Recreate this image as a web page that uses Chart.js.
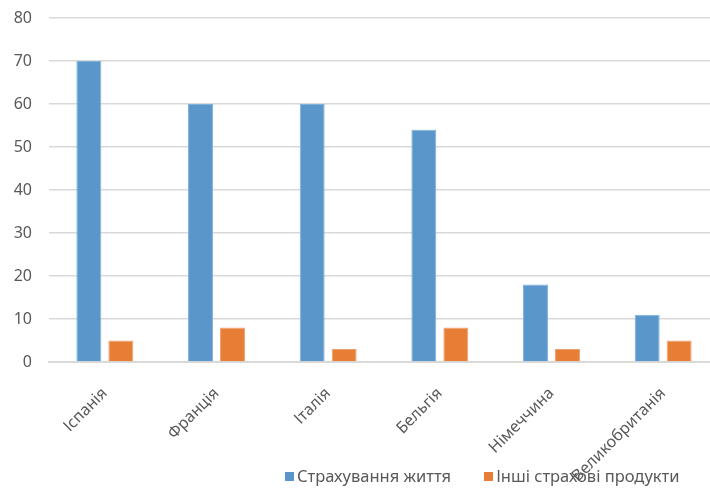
<!DOCTYPE html>
<html>
<head>
<meta charset="utf-8">
<script src="https://cdn.jsdelivr.net/npm/chart.js@4"></script>
<style>
    html, body { margin: 0; padding: 0; background: #fff; overflow: hidden; }
    #wrap { position: relative; width: 720px; height: 489px; }
    #legenda { position: absolute; top: 464px; left: 285px; font: 16.5px "Noto Sans", sans-serif; color: #595959; white-space: nowrap; }
    #legenda span.item { display: inline-block; margin-right: 33px; }
    #legenda i { display: inline-block; width: 9px; height: 9px; margin-right: 3px; vertical-align: 1px; }
</style>
</head>
<body>
<div id="wrap">
    <canvas id="grafico" width="720" height="489"></canvas>
    <div id="legenda"></div>
</div>
<script>
    // dados
    const paises = ['Іспанія', 'Франція', 'Італія', 'Бельгія', 'Німеччина', 'Великобританія'];
    const strakhZhyttia = [70, 60, 60, 54, 18, 11];
    const inshiProdukty = [5, 8, 3, 8, 3, 5];
    const nomesSeries = ['Страхування життя', 'Інші страхові продукти'];
    const cores = ['#5b96cb', '#e77e35'];

    const cinza = '#595959';
    const fonte = { family: '"Noto Sans", sans-serif', size: 16 };

    new Chart(document.getElementById('grafico'), {
        type: 'bar',
        data: {
            labels: paises,
            datasets: [
                { label: nomesSeries[0], data: strakhZhyttia, backgroundColor: cores[0], borderColor: '#7fb0dc', borderWidth: 1 },
                { label: nomesSeries[1], data: inshiProdukty, backgroundColor: cores[1], borderColor: '#f0a070', borderWidth: 1 }
            ]
        },
        options: {
            responsive: false,
            animation: false,
            layout: { padding: { top: 0, right: 1, left: 0, bottom: 0 } },
            datasets: { bar: { categoryPercentage: 0.573, barPercentage: 0.78 } },
            scales: {
                x: {
                    grid: { display: false, drawTicks: false },
                    border: { color: '#d9d9d9', width: 2 },
                    ticks: { color: cinza, font: fonte, maxRotation: 45, minRotation: 45, padding: 22 },
                    afterFit: s => { s.height = 127; }
                },
                y: {
                    min: 0, max: 80,
                    grid: { color: '#d9d9d9', lineWidth: 1.5, drawTicks: false },
                    border: { display: false },
                    ticks: { stepSize: 10, color: cinza, font: fonte, padding: 17 },
                    afterFit: s => { s.width = 49; s.paddingTop = 18; }
                }
            },
            plugins: { legend: { display: false }, tooltip: { enabled: false } }
        }
    });

    // legenda em HTML
    document.getElementById('legenda').innerHTML = nomesSeries
        .map((n, i) => `<span class="item"><i style="background:${cores[i]}"></i>${n}</span>`)
        .join('');
</script>
</body>
</html>
